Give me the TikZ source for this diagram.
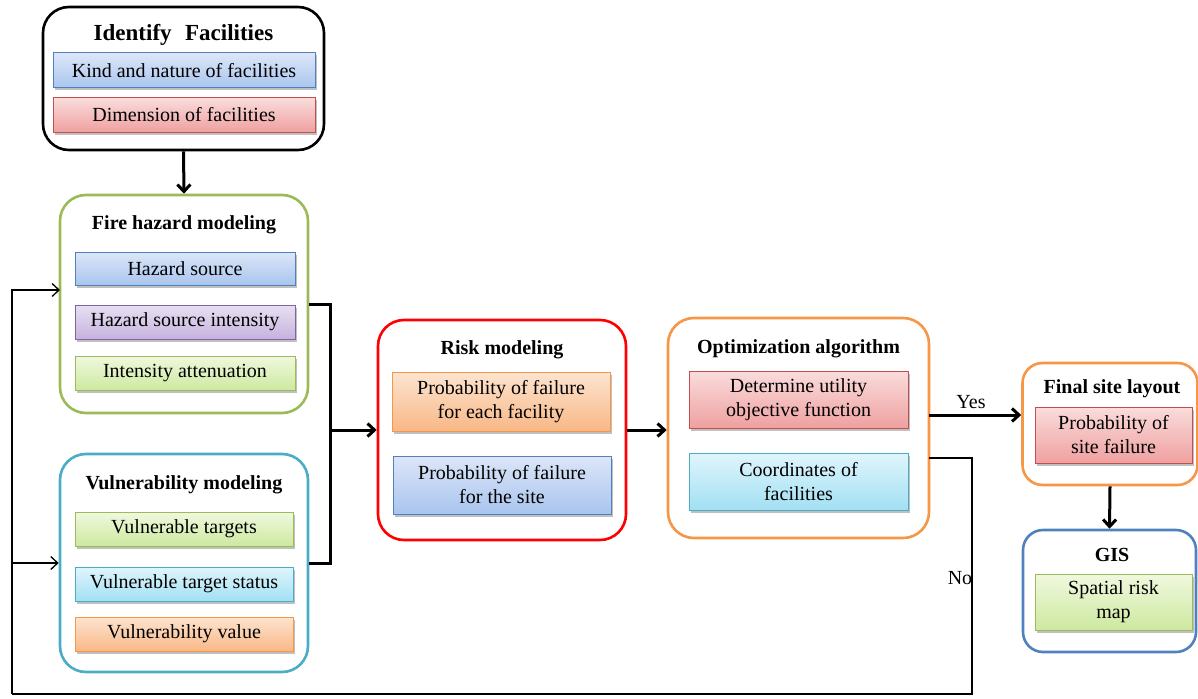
\documentclass[tikz,border=0pt]{standalone}
\usepackage{fontspec}
\setmainfont{Liberation Serif}
\usetikzlibrary{arrows.meta,shadows}
\definecolor{bB}{HTML}{4F81BD}\definecolor{bT}{HTML}{DCE6F8}\definecolor{bD}{HTML}{A9C5EE}
\definecolor{rB}{HTML}{C0504D}\definecolor{rT}{HTML}{FADCDC}\definecolor{rD}{HTML}{EFA0A0}
\definecolor{pB}{HTML}{8064A2}\definecolor{pT}{HTML}{E8E0F2}\definecolor{pD}{HTML}{C6B2DE}
\definecolor{gB}{HTML}{9BBB59}\definecolor{gT}{HTML}{F0F8DE}\definecolor{gD}{HTML}{CDE9A0}
\definecolor{cB}{HTML}{4BACC6}\definecolor{cT}{HTML}{E0F5FC}\definecolor{cD}{HTML}{A2E0F3}
\definecolor{oB}{HTML}{F79646}\definecolor{oT}{HTML}{FDE4D0}\definecolor{oD}{HTML}{F8B886}
\definecolor{redO}{HTML}{FF0000}
\tikzset{
  outer/.style={draw=#1,line width=2.6pt,rounded corners=26pt,fill=white},
  inner/.style args={#1/#2/#3}{draw=#1,line width=1pt,top color=#2,bottom color=#3,
     drop shadow={opacity=0.35,shadow xshift=2pt,shadow yshift=-2.5pt,fill=black!70},
     font=\fontsize{20}{24}\selectfont,align=center,inner sep=0pt},
  ttl/.style={font=\fontsize{20}{24}\selectfont\bfseries,inner sep=0pt},
  thk/.style={line width=3pt,line join=miter},
  thkarr/.style={thk,-{Straight Barb[length=7pt,width=13pt,line width=3pt]}},
  thn/.style={line width=1.3pt},
  thnarr/.style={thn,-{Straight Barb[length=7pt,width=13pt,line width=1.3pt]}},
  lbl/.style={font=\fontsize{20}{24}\selectfont,inner sep=0pt}
}
\begin{document}
\begin{tikzpicture}[x=1pt,y=-1pt]
\useasboundingbox (0,0) rectangle (1198,698);
% Identify facilities
\node[outer=black,minimum width=281pt,minimum height=143pt] (idf) at (183.5,78.5) {};
\node[ttl,font=\fontsize{23}{27}\selectfont\bfseries] (idft) at (183.5,35) {Identify\,\, Facilities};
\node[inner=bB/bT/bD,minimum width=262pt,minimum height=35pt] (idf1) at (184,70.5) {Kind and nature of facilities};
\node[inner=rB/rT/rD,minimum width=262pt,minimum height=34pt] (idf2) at (184,115) {Dimension of facilities};
% Fire hazard
\node[outer=gB,minimum width=248pt,minimum height=218pt] (fire) at (184,304) {};
\node[ttl] (firet) at (184,225) {Fire hazard modeling};
\node[inner=bB/bT/bD,minimum width=220pt,minimum height=33pt] (f1) at (185,268.5) {Hazard source};
\node[inner=pB/pT/pD,minimum width=220pt,minimum height=34pt] (f2) at (185,322) {Hazard source intensity};
\node[inner=gB/gT/gD,minimum width=220pt,minimum height=34pt] (f3) at (185,373) {Intensity attenuation};
% Vulnerability
\node[outer=cB,minimum width=248pt,minimum height=218pt] (vuln) at (184,563) {};
\node[ttl] (vulnt) at (184,485) {Vulnerability modeling};
\node[inner=gB/gT/gD,minimum width=218pt,minimum height=34pt] (v1) at (184,529) {Vulnerable targets};
\node[inner=cB/cT/cD,minimum width=218pt,minimum height=34pt] (v2) at (184,584) {Vulnerable target status};
\node[inner=oB/oT/oD,minimum width=218pt,minimum height=34pt] (v3) at (184,634) {Vulnerability value};
% Risk
\node[outer=redO,minimum width=248pt,minimum height=220pt] (risk) at (502,430) {};
\node[ttl] (riskt) at (502,350) {Risk modeling};
\node[inner=oB/oT/oD,minimum width=218pt,minimum height=59pt] (r1) at (501,401.5) {Probability of failure\\for each facility};
\node[inner=bB/bT/bD,minimum width=218pt,minimum height=58pt] (r2) at (502,485) {Probability of failure\\for the site};
% Optimization
\node[outer=oB,minimum width=261pt,minimum height=220pt] (opt) at (798.5,428) {};
\node[ttl] (optt) at (798.5,349) {Optimization algorithm};
\node[inner=rB/rT/rD,minimum width=219pt,minimum height=57pt] (o1) at (798.5,399.5) {Determine utility\\objective function};
\node[inner=cB/cT/cD,minimum width=219pt,minimum height=57pt] (o2) at (798.5,481.5) {Coordinates of\\facilities};
% Final site layout
\node[outer=oB,minimum width=175pt,minimum height=122pt,rounded corners=20pt] (final) at (1110,424) {};
\node[ttl] (finalt) at (1112,389) {Final site layout};
\node[inner=rB/rT/rD,minimum width=157pt,minimum height=56pt] (fi1) at (1113.5,435) {Probability of\\site failure};
% GIS
\node[outer=bB,minimum width=173pt,minimum height=122pt,rounded corners=20pt] (gis) at (1109.5,591) {};
\node[ttl] (gist) at (1112,555) {GIS};
\node[inner=gB/gT/gD,minimum width=157pt,minimum height=56pt] (g1) at (1113.5,602) {Spatial risk\\map};
% connectors
\draw[thkarr] (idf.south) -- (fire.north);
\coordinate (j) at (330,430);
\draw[thk] (fire.east) -| (j);
\draw[thk] (vuln.east) -| (j);
\draw[thkarr] (j) -- (risk.west);
\draw[thkarr] (risk.east) -- (risk.east -| opt.west);
\coordinate (yes) at (929,415);
\draw[thkarr] (yes) -- (yes -| final.west);
\node[lbl] (yesl) at (971,402) {Yes};
\draw[thkarr] (final.south) -- (gis.north);
\coordinate (no) at (929,458);
\coordinate (nob) at (972,694);
\coordinate (lb) at (12,694);
\coordinate (fin) at (60,290);
\draw[thn] (no) -| (nob) -- (lb);
\draw[thnarr] (lb) |- (fin);
\draw[thnarr] (lb |- vuln.west) -- (vuln.west);
\node[lbl] (nol) at (960,578) {No};
\end{tikzpicture}
\end{document}
